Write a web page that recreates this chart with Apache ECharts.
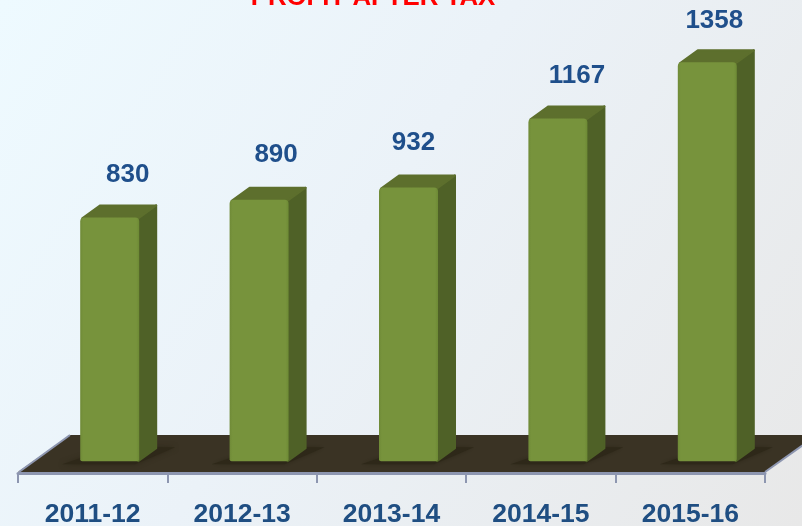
<!DOCTYPE html>
<html>
<head>
<meta charset="utf-8">
<style>
html, body { margin: 0; padding: 0; overflow: hidden; }
#chart { width: 802px; height: 526px; }
</style>
<script src="https://cdn.jsdelivr.net/npm/echarts@6/dist/echarts.min.js"></script>
</head>
<body>
<div id="chart"></div>
<script>
const years = ['2011-12', '2012-13', '2013-14', '2014-15', '2015-16']
const profit = [830, 890, 932, 1167, 1358]
const labelShift = [18, 17, 5, 19, 7]
const labelRise = [43, 45, 45, 43, 41]

const depthX = 18, depthY = 13, barW = 59, barShift = 17
const fontName = '"Liberation Sans", Arial, sans-serif'

const chart = echarts.init(document.getElementById('chart'))

// floor of the fake 3d chart, hangs off the grid rect
const drawFloor = (params) => {
  const g = params.coordSys
  const bottom = g.y + g.height - 1
  const dx = 52, dy = 37
  return {
    type: 'group',
    silent: true,
    children: [
      {
        type: 'polygon',
        shape: { points: [[g.x, bottom], [g.x + dx, bottom - dy], [g.x + g.width + dx, bottom - dy], [g.x + g.width, bottom]] },
        style: { fill: '#3a3324' }
      },
      {
        type: 'polyline',
        shape: { points: [[g.x + 1, bottom], [g.x + dx, bottom - dy]] },
        style: { stroke: '#8d96b0', lineWidth: 2, fill: null }
      },
      {
        type: 'polyline',
        shape: { points: [[g.x + g.width, bottom], [g.x + g.width + dx, bottom - dy]] },
        style: { stroke: '#8d96b0', lineWidth: 2, fill: null }
      }
    ]
  }
}

const drawBar = (params, api) => {
  const top = api.coord([api.value(0), api.value(1)])
  const base = api.coord([api.value(0), 0])
  const x = top[0] + barShift - barW / 2
  const w = barW
  const y = top[1]
  const b = base[1]
  const shift = labelShift[params.dataIndex]
  const rise = labelRise[params.dataIndex]
  return {
    type: 'group',
    children: [
      // soft shadow on the floor
      {
        type: 'polygon',
        shape: { points: [[x - 18, b + 3], [x + w - 4, b + 3], [x + w + depthX + 18, b - 14], [x + w, b - 14], [x, b - 3]] },
        style: { fill: '#2e2819', shadowBlur: 5, shadowColor: '#2e2819' }
      },
      // side
      {
        type: 'polygon',
        shape: { points: [[x + w - 1, y], [x + w + depthX - 1, y - depthY + 1], [x + w + depthX - 1, b - depthY], [x + w - 1, b]] },
        style: { fill: '#4f6127', stroke: '#4f6127', lineWidth: 2, lineJoin: 'round' }
      },
      // top
      {
        type: 'polygon',
        shape: { points: [[x + 2, y + 1], [x + depthX + 2, y - depthY + 1], [x + w + depthX - 1, y - depthY + 1], [x + w - 1, y + 1]] },
        style: { fill: '#5d6f2d', stroke: '#5d6f2d', lineWidth: 2, lineJoin: 'round' }
      },
      // front
      {
        type: 'rect',
        shape: { x: x, y: y, width: w, height: b - y, r: [4, 4, 2, 2] },
        style: {
          fill: new echarts.graphic.LinearGradient(0, 0, 1, 0, [
            { offset: 0, color: '#6f8a37' },
            { offset: 0.05, color: '#77933c' },
            { offset: 0.95, color: '#77933c' },
            { offset: 1, color: '#6d8a35' }
          ])
        }
      },
      // value
      {
        type: 'text',
        style: {
          x: top[0] + barShift + shift,
          y: y - rise,
          text: String(api.value(1)),
          fill: '#1f4f8b',
          font: 'bold 26px ' + fontName,
          align: 'center',
          verticalAlign: 'middle'
        }
      }
    ]
  }
}

chart.setOption({
  animation: false,
  backgroundColor: new echarts.graphic.LinearGradient(0, 0, 1, 1, [
    { offset: 0, color: '#eefaff' },
    { offset: 0.45, color: '#ebf2f8' },
    { offset: 1, color: '#e8e8e8' }
  ]),
  title: {
    text: 'PROFIT AFTER TAX',
    left: 368,
    top: -20,
    textAlign: 'center',
    textStyle: { color: '#ff0000', fontSize: 25.8, fontWeight: 'bold', fontFamily: fontName }
  },
  grid: { left: 18, right: 37, top: 0, bottom: 53, outerBoundsMode: 'none' },
  xAxis: {
    type: 'category',
    data: years,
    axisLine: { onZero: false, lineStyle: { color: '#8d96b0', width: 3 } },
    axisTick: { show: true, length: 10, lineStyle: { color: '#8d96b0', width: 2 } },
    axisLabel: {
      margin: 28,
      fontSize: 26.5,
      fontWeight: 'bold',
      color: '#1f4e82',
      fontFamily: fontName,
      interval: 0
    }
  },
  yAxis: { type: 'value', min: -40, max: 1570, show: false },
  series: [
    { type: 'custom', clip: false, z: 1, data: [0], renderItem: drawFloor },
    {
      type: 'custom',
      clip: false,
      z: 2,
      encode: { x: 0, y: 1 },
      data: profit.map((v, i) => [i, v]),
      renderItem: drawBar
    }
  ]
})
</script>
</body>
</html>
